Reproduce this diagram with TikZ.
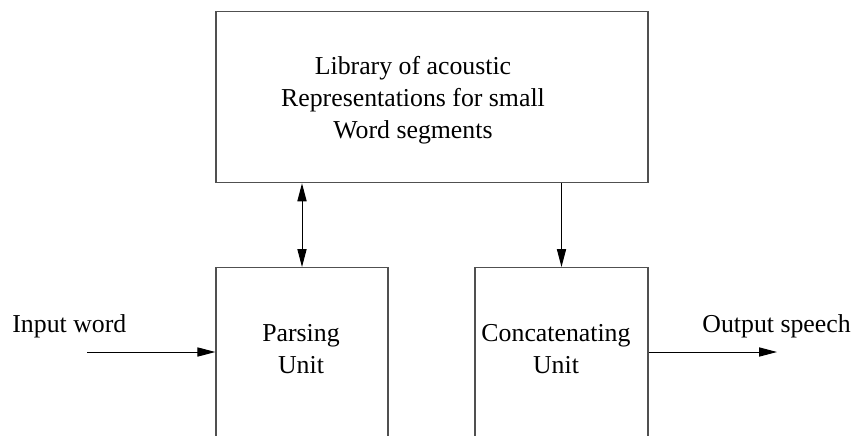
\documentclass[tikz,border=0pt]{standalone}
\usepackage{fontspec}
\setmainfont{Liberation Serif}
\usepackage{tikz}
\usetikzlibrary{arrows.meta, positioning}
\definecolor{boxgray}{RGB}{80,80,80}

\begin{document}
\begin{tikzpicture}[x=0.5pt, y=-0.5pt, font=\fontsize{12.9}{15.8}\selectfont,
  blockbox/.style={draw=boxgray, line width=0.65pt, inner sep=0pt, anchor=north},
  txt/.style={align=center, inner sep=0pt, anchor=base},
  flow/.style={line width=0.5pt, -{Triangle[length=9pt, width=4.6pt]}},
  flowboth/.style={line width=0.5pt, {Triangle[length=9pt, width=4.6pt]}-{Triangle[length=9pt, width=4.6pt]}}]

% picture frame (boxes run off the bottom edge)
\clip (0,0) rectangle (853,435);

% Library block
\node[blockbox, minimum width=216pt, minimum height=85.5pt] (lib) at (432,11) {};
\node[txt] (libtxt) at (413,138) {Library of acoustic\\Representations for small\\Word segments};

% Parsing and concatenating units
\node[blockbox, minimum width=86pt, minimum height=110pt] (parse) at (302,267) {};
\node[txt] (parsetxt) at (301,373) {Parsing\\Unit};
\node[blockbox, minimum width=86.5pt, minimum height=110pt] (concat) at (561.5,267) {};
\node[txt] (concattxt) at (556,373) {Concatenating\\Unit};

% Input and output
\node[anchor=base west, inner sep=0pt] (inlab) at (12,332) {Input word};
\node[anchor=base west, inner sep=0pt] (outlab) at (702,332) {Output speech};
\coordinate (in) at (87,352);
\coordinate (out) at (777,352);

% Connectors
\draw[flowboth] (parse.north |- lib.south) -- (parse.north);
\draw[flow] (concat.north |- lib.south) -- (concat.north);
\draw[flow] (in) -- (in -| parse.west);
\draw[flow] (concat.east |- out) -- (out);

\end{tikzpicture}
\end{document}
